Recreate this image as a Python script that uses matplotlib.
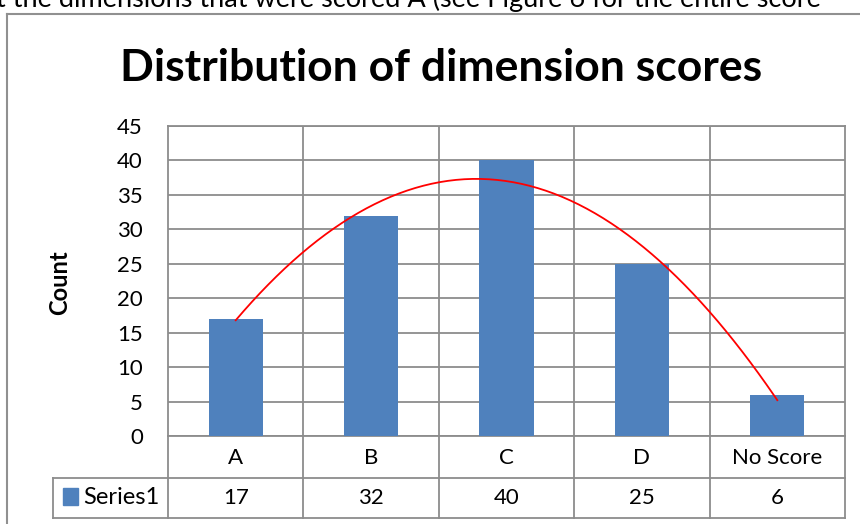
import matplotlib
matplotlib.use("Agg")
import matplotlib.pyplot as plt
import numpy as np

plt.rcParams['font.family'] = ['Lato', 'DejaVu Sans']

categories = ["A", "B", "C", "D", "No Score"]
counts = [17, 32, 40, 25, 6]
series_name = "Series1"
y_ticks = [0, 5, 10, 15, 20, 25, 30, 35, 40, 45]

W, H = 860, 524
BAR_BLUE = "#4F81BD"
GRID = "#8c8c8c"

fig = plt.figure(figsize=(W / 100, H / 100), dpi=100)

def fx(px):
    return px / W

def fy(py):
    return 1 - py / H

# plot area in pixels
L, R, T, B = 168, 845, 126, 436
ax = fig.add_axes([fx(L), fy(B), fx(R - L), (B - T) / H])

n = len(categories)
pos = np.arange(n) + 0.5
ax.bar(pos, counts, width=0.4, color=BAR_BLUE, zorder=3)

# order-2 polynomial trendline through the counts
coef = np.polyfit(pos, counts, 2)
xs = np.linspace(pos[0], pos[-1], 200)
ax.plot(xs, np.polyval(coef, xs), color="red", lw=1.3, zorder=4)

ax.set_xlim(0, n)
ax.set_ylim(0, 45)
ax.set_yticks(y_ticks)
ax.set_xticks(np.arange(1, n))
ax.tick_params(axis="both", length=0, labelsize=16)
ax.set_xticklabels([])
ax.tick_params(axis="y", pad=18)
ax.grid(True, color=GRID, lw=1.3, zorder=0)
for s in ax.spines.values():
    s.set_color(GRID)
    s.set_linewidth(1.3)

fig.text(fx(60), fy(283), "Count", rotation=90, ha="center", va="center",
         fontsize=17, fontweight="bold")

# data table under the axis
row1, row2, row3 = 437, 478, 518
bounds = np.linspace(L, R, n + 1)
line_kw = dict(color=GRID, lw=1.3, transform=fig.transFigure)
for bx in bounds:
    fig.add_artist(plt.Line2D([fx(bx)] * 2, [fy(B), fy(row3)], **line_kw))
leg_left = 53
for yy in (row2, row3):
    fig.add_artist(plt.Line2D([fx(leg_left), fx(R)], [fy(yy)] * 2, **line_kw))
fig.add_artist(plt.Line2D([fx(leg_left)] * 2, [fy(row2), fy(row3)], **line_kw))

for i, (cat, val) in enumerate(zip(categories, counts)):
    cx = (bounds[i] + bounds[i + 1]) / 2
    fig.text(fx(cx), fy((row1 + row2) / 2), cat, ha="center", va="center", fontsize=16)
    fig.text(fx(cx), fy((row2 + row3) / 2), str(val), ha="center", va="center", fontsize=16)

fig.add_artist(plt.Rectangle((fx(63), fy(505)), fx(15), 17 / H, color=BAR_BLUE,
                             transform=fig.transFigure))
fig.text(fx(83), fy((row2 + row3) / 2), series_name, ha="left", va="center", fontsize=17)

fig.text(fx(441), fy(68), "Distribution of dimension scores", ha="center", va="center",
         fontsize=32, fontweight="bold")

# chart frame
fig.add_artist(plt.Line2D([fx(7), fx(7)], [fy(14), 0], color="#909090", lw=1.5,
                          transform=fig.transFigure))
fig.add_artist(plt.Line2D([fx(7), 1], [fy(14), fy(14)], color="#909090", lw=1.5,
                          transform=fig.transFigure))

# surrounding document text, running off the top edge
fig.text(fx(-4), fy(7), "t the dimensions that were scored A (see Figure 6 for the entire score",
         ha="left", va="baseline", fontsize=19.5)

fig.savefig("out.png", dpi=100)
